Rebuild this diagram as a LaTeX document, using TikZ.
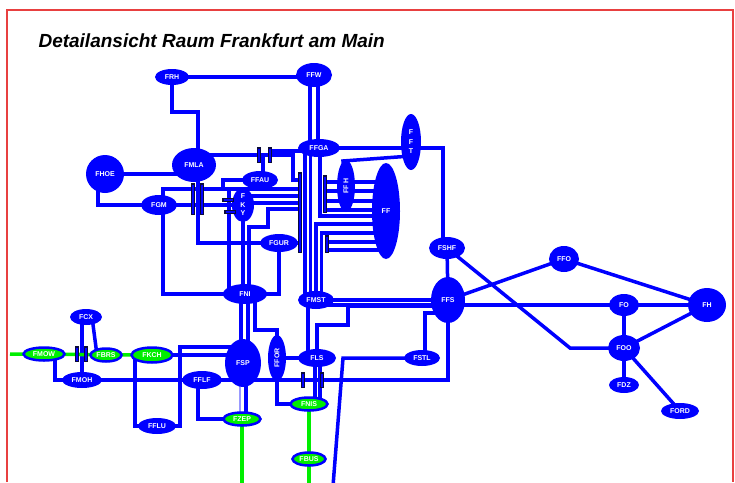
\documentclass[tikz,border=0pt]{standalone}
\usepackage{fontspec}
\setmainfont{Liberation Sans}
\usetikzlibrary{shapes.geometric,backgrounds}
\definecolor{trackblue}{RGB}{0,0,255}
\definecolor{trackgreen}{RGB}{0,238,0}
\definecolor{framered}{RGB}{232,64,64}
\definecolor{jointdark}{RGB}{10,10,60}

\begin{document}
\begin{tikzpicture}[x=1pt,y=-1pt,
  stn/.style={ellipse, fill=trackblue, text=white, inner sep=0pt,
              font=\fontsize{7}{9.5}\selectfont\bfseries, align=center},
  grn/.style={stn, fill=trackgreen, draw=trackblue, line width=2.5pt},
  sz/.style 2 args={minimum width=#1pt, minimum height=#2pt},
  track/.style={draw=trackblue, line width=3.5pt},
  gtrack/.style={draw=trackgreen, line width=3.5pt},
  joint/.style={draw=jointdark, line width=3.2pt},
  jointcore/.style={draw=trackblue, line width=1.1pt}
]
  \useasboundingbox (0,0) rectangle (735,482);
  \draw[framered, line width=1.2pt] (7,482) -- (7,10) -- (733,10) -- (733,482);

  % title
  \node[anchor=base west, font=\fontsize{19}{22}\selectfont\bfseries\itshape]
    (title) at (35,47) {Detailansicht Raum Frankfurt am Main};

  % stations, north part
  \node[stn, sz={34}{16}] (FRH) at (172,77) {FRH};
  \node[stn, sz={36}{24}] (FFW) at (314,75) {FFW};
  \node[stn, sz={38}{38}] (FHOE) at (105,174) {FHOE};
  \node[stn, sz={44}{34}] (FMLA) at (194,165) {FMLA};
  \node[stn, sz={42}{18}] (FFGA) at (319,148) {FFGA};
  \node[stn, sz={20}{56}] (FFT) at (411,142) {F\\F\\T};
  \node[stn, sz={36}{18}] (FFAU) at (260,180) {FFAU};
  \node[stn, sz={52}{18}, rotate=90] (FFH) at (346,186) {FF H};
  \node[stn, sz={28}{96}] (FF) at (386,211) {FF};
  \node[stn, sz={36}{20}] (FGM) at (159,205) {FGM};
  \node[stn, sz={22}{34}, font=\fontsize{7}{8.5}\selectfont\bfseries] (FKY) at (243,205) {F\\K\\Y};
  \node[stn, sz={38}{18}] (FGUR) at (279,243) {FGUR};
  \node[stn, sz={36}{22}] (FSHF) at (447,248) {FSHF};
  \node[stn, sz={30}{26}] (FFO) at (564,259) {FFO};

  % stations, middle part
  \node[stn, sz={44}{20}] (FNI) at (245,294) {FNI};
  \node[stn, sz={36}{18}] (FMST) at (316,300) {FMST};
  \node[stn, sz={34}{46}] (FFS) at (448,300) {FFS};
  \node[stn, sz={30}{22}] (FO) at (624,305) {FO};
  \node[stn, sz={38}{34}] (FH) at (707,305) {FH};
  \node[stn, sz={32}{16}] (FCX) at (86,317) {FCX};
  \node[grn, sz={41}{13}] (FMOW) at (44,354) {FMOW};
  \node[grn, sz={31}{13}] (FBRS) at (106,355) {FBRS};
  \node[grn, sz={41}{15}] (FKCH) at (152,355) {FKCH};
  \node[stn, sz={36}{48}] (FSP) at (243,363) {FSP};
  \node[stn, sz={46}{18}, rotate=90] (FFOR) at (277,358) {FFOR};
  \node[stn, sz={38}{18}] (FLS) at (317,358) {FLS};
  \node[stn, sz={36}{16}] (FSTL) at (422,358) {FSTL};
  \node[stn, sz={32}{26}] (FOO) at (624,348) {FOO};

  % stations, south part
  \node[stn, sz={40}{16}] (FMOH) at (82,380) {FMOH};
  \node[stn, sz={40}{18}] (FFLF) at (202,380) {FFLF};
  \node[stn, sz={30}{16}] (FDZ) at (624,385) {FDZ};
  \node[stn, sz={38}{16}] (FFLU) at (157,426) {FFLU};
  \node[grn, sz={37}{13}] (FZEP) at (242,419) {FZEP};
  \node[grn, sz={37}{13}] (FNIS) at (309,404) {FNIS};
  \node[stn, sz={38}{16}] (FORD) at (680,411) {FORD};
  \node[grn, sz={33}{13}] (FBUS) at (309,459) {FBUS};

  % free track ends
  \coordinate (exitW) at (10,354);
  \coordinate (exitS) at (333,486);
  \coordinate (exitB) at (309,486);
  \coordinate (exitZ) at (242,486);
  \coordinate (jFFGA) at (270,151);

  \begin{scope}[on background layer]
    % north
    \draw[track] (FRH.center) -- (FRH.center -| FFW.center);
    \draw[track] (FRH.center) |- (198,112) -- ([xshift=4pt]FMLA.center);
    \draw[track] ([xshift=-4pt]FFW.center) -- ([xshift=-4pt]FFW.center |- FFGA.center);
    \draw[track] ([xshift=4pt]FFW.center) -- ([xshift=4pt]FFW.center |- FFGA.center);
    \draw[track] (FHOE.center) -- (FHOE.center -| FMLA.center);
    \draw[track] ([xshift=-7pt]FHOE.center) |- (FGM.center);
    \draw[track] ([yshift=10pt]FMLA.center) -- (293,155) -- (293,180) -- (300,180);
    \draw[track] (jFFGA) -- ([yshift=-3pt]FFGA.center);
    \draw[track] ([xshift=3pt]FFAU.center) -- (263,155);
    \draw[track] ([xshift=4pt]FGM.center) |- (223,189) |- (FFAU.center);
    \draw[track] (223,189) -- (300,189);
    \draw[track] (FGM.center) -- (FKY.center);
    \draw[track] ([xshift=4pt]FGM.center) |- (FNI.center);
    \draw[track] ([xshift=4pt]FMLA.center) |- (FGUR.center);
    \draw[track] (FGUR.center) -- (300,243);
    \draw[track] (FGUR.center) |- (FNI.center);
    \draw[track] (229,189) -- ([xshift=-16pt]FNI.center);
    \draw[track] (FKY.center) -- ([xshift=-2pt]FNI.center);
    \draw[track] ([yshift=9pt]FKY.center) -- (300,196);
    \draw[track] ([yshift=2pt]FKY.center) -- (300,203);
    \draw[track] (300,209) -- (268,209) -- (268,227) -- (249,227) -- ([xshift=4pt]FNI.center);

    % trunk between FFGA, FMST and FF
    \draw[track] ([xshift=-14pt]FFGA.center) -- ([xshift=-11pt]FMST.center);
    \draw[track] ([xshift=-8.5pt]FFGA.center) -- ([xshift=-5.5pt]FMST.center);
    \draw[track] ([xshift=1pt]FFGA.center) |- ([yshift=-5pt]FF.center);
    \draw[track] (FMST.center) |- ([yshift=-13pt]FF.center);
    \draw[track] ([xshift=5.5pt]FMST.center) |- ([yshift=-22pt]FF.center);
    \foreach \y in {182,191,201,210}
      \draw[track] (325,\y) -- (FF.center |- 0,\y);
    \foreach \y in {242,250}
      \draw[track] (327,\y) -- (FF.center |- 0,\y);
    \draw[track] ([yshift=-14pt]FFT.center) -- (343,161) -- (FFH.center);
    \draw[track] (FFGA.center) -| ([xshift=-4pt]FSHF.center);

    % middle and south
    \draw[track] (FMST.center) -- (FFS.center);
    \draw[track] ([yshift=-5pt]FMST.center) -- ([yshift=-5pt]FFS.center);
    \draw[track] ([yshift=-6pt]FFS.center) -| (348,325) -| (FLS.center);
    \draw[track] ([yshift=-13pt]FFS.center) -| ([xshift=3pt]FSTL.center);
    \draw[track] (FSTL.center) -- (343,358) -- (exitS);
    \draw[track] (FFS.center) |- (FMOH.center);
    \draw[track] ([xshift=-8pt]FMST.center) -- ([xshift=-9pt]FLS.center);
    \draw[track] ([xshift=11pt]FMOW.center) |- (FMOH.center);
    \draw[track] ([xshift=-4pt]FCX.center) -- (FMOH.center);
    \draw[track] ([xshift=6pt]FCX.center) -- ([xshift=-9pt]FBRS.center);
    \draw[gtrack] (exitW) -- (FKCH.center);
    \draw[track] (FKCH.center) -- (FKCH.center -| FSP.center);
    \draw[track] ([yshift=16pt]FSP.center) -| (180,426) -- (FFLU.center);
    \draw[track] ([xshift=-17pt]FKCH.center) |- (FFLU.center);
    \draw[track] ([xshift=-4pt]FFLF.center) |- (FZEP.center);
    \draw[track] ([xshift=-4pt]FNI.center) -- ([xshift=-2pt]FSP.center);
    \draw[track] ([xshift=3pt]FNI.center) -- ([xshift=5pt]FSP.center);
    \draw[track] ([xshift=10pt]FNI.center) |- ([yshift=28pt]FFOR.center) -- (FFOR.center);
    \draw[track] (FFOR.center) -- (FLS.center);
    \draw[track] (FFOR.center) |- (FNIS.center);
    \draw[track] ([xshift=-2pt]FLS.center) -- ([xshift=6pt]FNIS.center);
    \draw[track] ([xshift=3pt]FLS.center) -- ([xshift=11pt]FNIS.center);
    \draw[gtrack] (FNIS.center) -- (FBUS.center);
    \draw[gtrack] (FBUS.center) -- (exitB);
    \draw[gtrack] (FZEP.center) -- (exitZ);
    \draw[track] ([xshift=3pt]FSP.center) -- ([xshift=4pt]FZEP.center);
    \draw[draw=trackblue!40, line width=1.2pt] ([xshift=-3pt]FSP.center) -- ([xshift=-2pt]FZEP.center);

    % east
    \draw[track] (FSHF.center) -- (FFS.center);
    \draw[track] (FSHF.center) -- (570,348) -- (FOO.center);
    \draw[track] (FFS.center) -- (FFO.center);
    \draw[track] (FFO.center) -- (FH.center);
    \draw[track] ([yshift=-5pt]FFS.center) -- (FO.center) -- (FH.center);
    \draw[track] (FO.center) -- (FOO.center) -- (FDZ.center);
    \draw[track] (FOO.center) -- (FH.center);
    \draw[track] (FOO.center) -- (FORD.center);
  \end{scope}

  % insulated joints
  \foreach \x/\ya/\yb in {259/147/163, 270/147/163, 193/183/215, 202/183/215,
                          300/172/253, 325/175/213, 327/235/253, 303/372/388,
                          322/372/388, 77/346/362, 86/346/362} {
    \draw[joint] (\x,\ya) -- (\x,\yb);
    \draw[jointcore] (\x,\ya+1.5) -- (\x,\yb-1.5);
  }
  \foreach \xa/\xb/\y in {222/234/200, 224/236/212} {
    \draw[joint] (\xa,\y) -- (\xb,\y);
    \draw[jointcore] (\xa+1.5,\y) -- (\xb-1.5,\y);
  }
\end{tikzpicture}
\end{document}
